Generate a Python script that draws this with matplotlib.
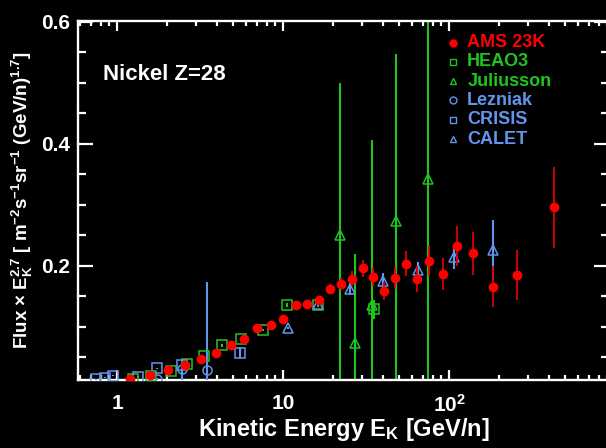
import matplotlib
matplotlib.use("Agg")
import matplotlib.pyplot as plt
import numpy as np
from matplotlib.ticker import FixedLocator, FuncFormatter, MultipleLocator, LogLocator, NullFormatter

plt.rcParams["font.family"] = ["Liberation Sans", "DejaVu Sans"]
plt.rcParams["font.weight"] = "bold"
plt.rcParams["mathtext.fontset"] = "custom"
plt.rcParams["mathtext.rm"] = "Liberation Sans:bold"
plt.rcParams["mathtext.bf"] = "Liberation Sans:bold"
plt.rcParams["mathtext.it"] = "Liberation Sans:bold"
plt.rcParams["mathtext.default"] = "bf"

RED = "#ff0000"
RED_BAR = "#dd0000"
GREEN = "#1fc41f"
BLUE = "#6495ed"

# AMS (filled circles)
ams_e = [1.20, 1.57, 2.02, 2.57, 3.22, 3.96, 4.86, 5.84, 7.0, 8.43, 10.0, 11.9, 14.0, 16.4,
         19.2, 22.4, 25.9, 30.4, 35.0, 40.5, 47.2, 55.0, 64.4, 76.2, 91.9, 111, 140, 183, 257, 430]
ams_flux = [0.015, 0.022, 0.030, 0.038, 0.048, 0.058, 0.070, 0.081, 0.099, 0.104, 0.113, 0.136,
            0.138, 0.144, 0.162, 0.170, 0.179, 0.196, 0.182, 0.159, 0.181, 0.204, 0.179, 0.208,
            0.187, 0.233, 0.221, 0.166, 0.185, 0.296]
ams_err = [0.001, 0.001, 0.001, 0.001, 0.002, 0.002, 0.002, 0.003, 0.003, 0.003, 0.004, 0.004,
           0.005, 0.006, 0.008, 0.010, 0.012, 0.014, 0.014, 0.014, 0.018, 0.021, 0.021, 0.025,
           0.026, 0.033, 0.035, 0.034, 0.041, 0.067]

# HEAO3
heao_e = [1.25, 1.60, 2.11, 2.65, 3.36, 4.31, 5.61, 7.54, 10.6, 16.3, 35.3]
heao_flux = [0.015, 0.020, 0.028, 0.040, 0.052, 0.070, 0.080, 0.095, 0.136, 0.136, 0.129]
heao_err = [0.001, 0.001, 0.001, 0.001, 0.001, 0.002, 0.002, 0.002, 0.003, 0.004, 0.016]

# Juliusson (errors reach down to zero)
jul_e = [22.0, 27.2, 34.2, 48.0, 74.9]
jul_flux = [0.251, 0.073, 0.136, 0.274, 0.342]
jul_upper = [0.500, 0.219, 0.407, 0.548, 0.750]

# Lezniak
lez_e = [1.73, 2.45, 3.47]
lez_flux = [0.014, 0.031, 0.029]
lez_upper = [0.016, 0.037, 0.173]

# CRISIS
cri_e = [0.744, 0.846, 0.95, 1.34, 1.73, 2.45, 5.5]
cri_flux = [0.014, 0.017, 0.020, 0.018, 0.032, 0.037, 0.058]
cri_err = [0.001, 0.001, 0.001, 0.001, 0.001, 0.006, 0.009]

# CALET
cal_e = [10.75, 16.3, 25.3, 40.1, 65.2, 107.8, 183]
cal_flux = [0.098, 0.138, 0.163, 0.175, 0.193, 0.215, 0.226]
cal_err = [0.002, 0.004, 0.011, 0.013, 0.013, 0.020, 0.049]

legend_rows = [
    ("AMS 23K", RED, "o", True),
    ("HEAO3", GREEN, "s", False),
    ("Juliusson", GREEN, "^", False),
    ("Lezniak", BLUE, "o", False),
    ("CRISIS", BLUE, "s", False),
    ("CALET", BLUE, "^", False),
]

fig = plt.figure(figsize=(6.06, 4.48), dpi=100, facecolor="black")
ax = fig.add_axes([78 / 606, 68 / 448, 531 / 606, 359 / 448], facecolor="black")

open_kw = dict(ls="none", mfc="none", mew=1.1, ms=6.5, elinewidth=1.5, capsize=0)

jul_flux_a = np.array(jul_flux)
ax.errorbar(jul_e, jul_flux, yerr=[jul_flux_a, np.array(jul_upper) - jul_flux_a],
            marker="^", color=GREEN, ecolor=GREEN, zorder=2, **open_kw)
ax.errorbar(heao_e, heao_flux, yerr=heao_err, marker="s", color=GREEN, ecolor=GREEN,
            zorder=3, **open_kw)
lez_flux_a = np.array(lez_flux)
ax.errorbar(lez_e, lez_flux, yerr=[lez_flux_a, np.array(lez_upper) - lez_flux_a],
            marker="o", color=BLUE, ecolor=BLUE, zorder=3, **open_kw)
ax.errorbar(cri_e, cri_flux, yerr=cri_err, marker="s", color=BLUE, ecolor=BLUE,
            zorder=3, **open_kw)
ax.errorbar(cal_e, cal_flux, yerr=cal_err, marker="^", color=BLUE, ecolor=BLUE,
            zorder=4, **open_kw)
ax.errorbar(ams_e, ams_flux, yerr=ams_err, marker="o", ls="none", color=RED, mec=RED,
            ms=6, ecolor=RED_BAR, elinewidth=1.3, capsize=0, zorder=5)

ax.set_xscale("log")
ax.set_xlim(0.582, 920)
ax.set_ylim(0.0131, 0.6016)

ax.xaxis.set_major_locator(FixedLocator([1, 10, 100]))
ax.xaxis.set_minor_locator(LogLocator(base=10, subs=np.arange(2, 10)))
ax.xaxis.set_minor_formatter(NullFormatter())
ax.xaxis.set_major_formatter(FuncFormatter(
    lambda v, p: {1: "1", 10: "10", 100: r"$10^{2}$"}.get(int(round(v)), "")))
ax.yaxis.set_major_locator(FixedLocator([0.2, 0.4, 0.6]))
ax.yaxis.set_minor_locator(MultipleLocator(0.05))

for s in ax.spines.values():
    s.set_color("white")
    s.set_linewidth(1.7)
ax.tick_params(which="both", direction="in", colors="white", top=True, right=True,
               labelsize=15, width=1.6)
ax.tick_params(axis="y", which="major", length=11, pad=6)
ax.tick_params(axis="y", which="minor", length=6)
ax.tick_params(axis="x", which="major", length=7, pad=10)
ax.tick_params(axis="x", which="minor", length=3.5)
for lab in ax.get_xticklabels() + ax.get_yticklabels():
    lab.set_fontweight("bold")

ax.set_xlabel(r"Kinetic Energy E$_K$ [GeV/n]", color="white", fontsize=17,
              fontweight="bold", labelpad=0)
ax.set_ylabel(r"Flux $\times$ E$_K^{2.7}$ [ m$^{-2}$s$^{-1}$sr$^{-1}$ (GeV/n)$^{1.7}$]",
              color="white", fontsize=13.5, fontweight="bold", labelpad=4)

ax.text(0.047, 0.85, "Nickel Z=28", transform=ax.transAxes, color="white",
        fontsize=16, fontweight="bold", va="center", ha="left")

# legend drawn row by row: small symbol followed by coloured label
row_y = 0.940
for label, color, marker, filled in legend_rows:
    ax.plot([0.707], [row_y], marker=marker, ls="none", transform=ax.transAxes,
            color=color, mfc=color if filled else "none", mec=color, ms=5, mew=1,
            clip_on=False, zorder=6)
    ax.text(0.733, row_y, label, transform=ax.transAxes, color=color, fontsize=13,
            fontweight="bold", va="center", ha="left")
    row_y -= 0.0538

fig.savefig("out.png", dpi=100, facecolor="black")
